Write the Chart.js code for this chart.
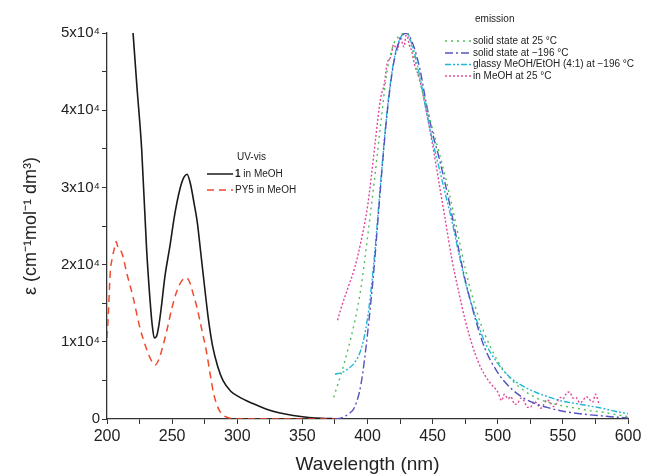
<!DOCTYPE html>
<html>
<head>
<meta charset="utf-8">
<script src="https://cdn.jsdelivr.net/npm/chart.js@4/dist/chart.umd.min.js"></script>
<style>
  body { margin: 0; background: #fff; }
  #wrap { width: 646px; height: 476px; }
</style>
</head>
<body>
<div id="wrap"><canvas id="chart" width="646" height="476"></canvas></div>
<script>
// UV-vis: 1 in MeOH
const uv1Nm  = [220, 223, 226.6, 230.4, 233, 234.7, 236.3, 238, 239.7, 241.5, 244.5, 248.4, 252, 256, 259, 261.5, 264, 267, 269.3, 272, 275, 277.8, 281, 285, 289, 295, 302, 312, 322, 332, 343, 355, 365, 375];
const uv1Eps = [50000, 43000, 35000, 22000, 15500, 12200, 10500, 10700, 12000, 14200, 18500, 22500, 26500, 29800, 31300, 31700, 30500, 27800, 25500, 21500, 17000, 13000, 9500, 6800, 5000, 3600, 2800, 2000, 1300, 800, 450, 200, 80, 30];

// UV-vis: PY5 in MeOH
const py5Nm  = [200, 201, 202.5, 204, 205.5, 207, 208.5, 210, 212, 215, 220, 225, 230.5, 234, 237, 240, 243, 246, 250, 253.5, 257, 261, 264, 266, 269, 272.5, 276.5, 279, 281.6, 284, 287, 291, 295, 300, 340, 375];
const py5Eps = [10500, 13500, 19000, 20800, 22000, 23000, 22200, 22000, 21200, 19000, 15800, 12000, 9000, 7600, 7000, 7800, 9500, 11500, 14500, 16500, 17800, 18300, 17500, 16300, 14500, 11800, 8600, 6000, 3500, 2000, 900, 300, 80, 0, 0, 0];

// emission: solid state at 25 °C
const em25Nm  = [374, 380, 385, 390, 395, 400, 405, 410, 415, 420, 425, 430, 435, 440, 445, 450, 455, 460, 465, 470, 475, 480, 485, 490, 500, 510, 520, 530, 540, 550, 560, 570, 580, 590, 600];
const em25Int = [2800, 6000, 9000, 12500, 17000, 23500, 30500, 38000, 45000, 48500, 49700, 50000, 47500, 43800, 40800, 37500, 34500, 31200, 27500, 23500, 19500, 16200, 13300, 11000, 7500, 5200, 3700, 2700, 2100, 1700, 1400, 1100, 900, 600, 300];

// emission: solid state at -196 °C
const em196Nm  = [375, 380, 385, 390, 395, 400, 405, 410, 415, 420, 425, 430, 435, 440, 445, 450, 455, 460, 465, 470, 475, 480, 485, 490, 500, 510, 520, 530, 540, 550, 560, 570, 580, 590, 600];
const em196Int = [0, 150, 600, 1500, 4500, 11000, 19500, 30000, 39500, 46000, 49200, 50000, 48500, 45500, 41000, 37000, 33800, 30200, 26300, 22000, 18000, 14700, 11700, 9200, 6000, 4000, 2700, 1900, 1400, 1000, 750, 550, 400, 250, 150];

// emission: glassy MeOH/EtOH (4:1) at -196 °C
const emGlassNm  = [375, 380, 385, 390, 395, 400, 405, 410, 415, 420, 425, 430, 435, 440, 445, 450, 455, 460, 465, 470, 475, 480, 485, 490, 500, 510, 520, 530, 540, 550, 560, 570, 580, 590, 600];
const emGlassInt = [5800, 6000, 6500, 7300, 9000, 13000, 20500, 30500, 39800, 46200, 49300, 50000, 48000, 44500, 40000, 36000, 32500, 29000, 25500, 21500, 17800, 14800, 12200, 10000, 7200, 5300, 4200, 3400, 2800, 2300, 2000, 1700, 1400, 1000, 700];

// emission: in MeOH at 25 °C
const emMeohNm  = [377, 380, 385, 390, 395, 400, 403, 406, 410, 413, 415, 418, 420, 423, 425, 428, 430, 432, 434, 436, 440, 445, 450, 455, 460, 465, 470, 475, 480, 485, 490, 495, 500, 503, 505, 508, 510, 513, 515, 518, 520, 523, 525, 528, 530, 533, 535, 538, 540, 543, 545, 548, 550, 553, 555, 558, 560, 563, 565, 568, 570, 573, 575, 578];
const emMeohInt = [12800, 14500, 17000, 19500, 23000, 27500, 31500, 36000, 41500, 43500, 46000, 47000, 48500, 47800, 49500, 48200, 50000, 48500, 47600, 46000, 44000, 40000, 35500, 30500, 25500, 20500, 16500, 12800, 9800, 7400, 5700, 4500, 3500, 2400, 3200, 2600, 2900, 1900, 2000, 2700, 2400, 1500, 1500, 2300, 2000, 1400, 1800, 2500, 2200, 1600, 2000, 2800, 2600, 3400, 3500, 2700, 2800, 2100, 2300, 2900, 2600, 2200, 3200, 1800];

const xTickMin = 200, xTickMax = 600;
const yTickLabels = ['0', '1x10⁴', '2x10⁴', '3x10⁴', '4x10⁴', '5x10⁴'];

const FONT = "'Liberation Sans', Arial, sans-serif";

function pairs(xs, ys) {
  return xs.map((x, i) => ({ x: x, y: ys[i] }));
}

function serie(xs, ys, color, dash, width) {
  return {
    data: pairs(xs, ys),
    borderColor: color,
    borderWidth: width,
    borderDash: dash,
    pointRadius: 0,
    fill: false,
    tension: 0.4,
    cubicInterpolationMode: 'monotone'
  };
}

const C_BLACK = '#1a1a1a';
const C_RED = '#f04a2e';
const C_GREEN = '#4cbf5a';
const C_BLUE = '#5452c0';
const C_CYAN = '#1fb8d8';
const C_PINK = '#e2449c';

const DASH_RED = [7, 5];
const DASH_GREEN = [2, 4];
const DASH_BLUE = [8, 3, 2, 3];
const DASH_CYAN = [6, 2, 2, 2, 2, 2];
const DASH_PINK = [2, 2];

// legends drawn by hand, like the original figure
const legendPlugin = {
  id: 'legendas',
  afterDraw(chart) {
    const ctx = chart.ctx;
    ctx.save();
    ctx.textBaseline = 'middle';

    // UV-vis
    ctx.fillStyle = '#222';
    ctx.font = '10px ' + FONT;
    ctx.fillText('UV-vis', 237, 157);
    ctx.lineWidth = 1.5;
    ctx.strokeStyle = C_BLACK;
    ctx.setLineDash([]);
    ctx.beginPath(); ctx.moveTo(207, 174); ctx.lineTo(233, 174); ctx.stroke();
    ctx.strokeStyle = C_RED;
    ctx.setLineDash(DASH_RED);
    ctx.beginPath(); ctx.moveTo(207, 190); ctx.lineTo(233, 190); ctx.stroke();
    ctx.setLineDash([]);
    ctx.font = 'bold 10px ' + FONT;
    ctx.fillText('1', 235, 174);
    const w1 = ctx.measureText('1 ').width;
    ctx.font = '10px ' + FONT;
    ctx.fillText('in MeOH', 235 + w1, 174);
    ctx.fillText('PY5 in MeOH', 235, 190);

    // emission
    ctx.fillText('emission', 475, 19);
    const rows = [
      ['solid state at 25 °C', C_GREEN, DASH_GREEN, 41],
      ['solid state at \u2212196 °C', C_BLUE, DASH_BLUE, 53],
      ['glassy MeOH/EtOH (4:1) at \u2212196 °C', C_CYAN, DASH_CYAN, 64.5],
      ['in MeOH at 25 °C', C_PINK, DASH_PINK, 76]
    ];
    rows.forEach(r => {
      ctx.strokeStyle = r[1];
      ctx.setLineDash(r[2]);
      ctx.lineWidth = 1.4;
      ctx.beginPath(); ctx.moveTo(445, r[3]); ctx.lineTo(471, r[3]); ctx.stroke();
      ctx.setLineDash([]);
      ctx.fillStyle = '#222';
      ctx.fillText(r[0], 473, r[3]);
    });
    ctx.restore();
  }
};

new Chart(document.getElementById('chart'), {
  type: 'line',
  data: {
    datasets: [
      serie(em25Nm, em25Int, C_GREEN, DASH_GREEN, 1.4),
      serie(em196Nm, em196Int, C_BLUE, DASH_BLUE, 1.4),
      serie(emGlassNm, emGlassInt, C_CYAN, DASH_CYAN, 1.4),
      serie(emMeohNm, emMeohInt, C_PINK, DASH_PINK, 1.4),
      serie(py5Nm, py5Eps, C_RED, DASH_RED, 1.5),
      serie(uv1Nm, uv1Eps, C_BLACK, [], 1.6)
    ]
  },
  options: {
    responsive: false,
    animation: false,
    layout: { padding: { left: 12, right: 18, top: 33, bottom: 0 } },
    plugins: { legend: { display: false }, tooltip: { enabled: false } },
    scales: {
      x: {
        type: 'linear',
        min: xTickMin,
        max: xTickMax,
        afterFit: s => { s.height = 57; },
        border: { display: true, color: '#333', width: 1.3 },
        grid: { drawOnChartArea: false, drawTicks: true, tickLength: 5, color: '#333', tickColor: '#333' },
        ticks: {
          stepSize: 25,
          color: '#222',
          font: { family: FONT, size: 16 },
          padding: 3,
          maxRotation: 0,
          autoSkip: false,
          callback: v => (v % 50 === 0 ? String(v) : '')
        },
        title: {
          display: true,
          text: 'Wavelength (nm)',
          color: '#222',
          font: { family: FONT, size: 19 },
          padding: { top: 0, bottom: 0 }
        }
      },
      y: {
        min: 0,
        max: 50000,
        afterFit: s => { s.width = 95; },
        border: { display: true, color: '#333', width: 1.3 },
        grid: { drawOnChartArea: false, drawTicks: true, tickLength: 5, color: '#333', tickColor: '#333' },
        ticks: {
          stepSize: 5000,
          color: '#222',
          font: { family: FONT, size: 15 },
          padding: 2,
          autoSkip: false,
          callback: v => (v % 10000 === 0 ? yTickLabels[v / 10000] : '')
        },
        title: {
          display: true,
          text: 'ε (cm⁻¹mol⁻¹ dm³)',
          color: '#222',
          font: { family: FONT, size: 18 },
          padding: { top: 8, bottom: 0 }
        }
      }
    }
  },
  plugins: [legendPlugin]
});
</script>
</body>
</html>
